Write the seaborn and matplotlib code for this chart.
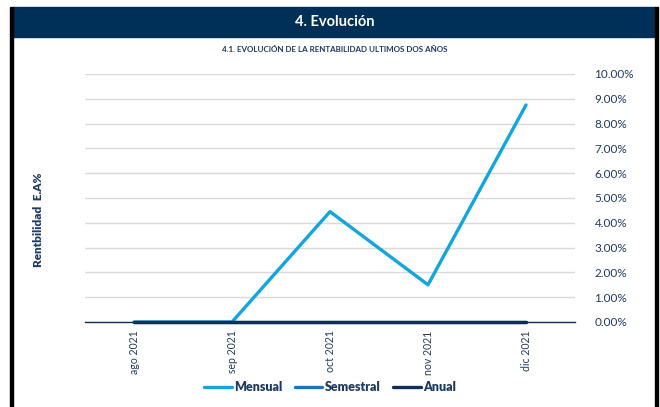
import pandas as pd
import matplotlib.pyplot as plt
import matplotlib.patches as patches
import seaborn as sns
from matplotlib.ticker import PercentFormatter

# data
meses = ['ago 2021', 'sep 2021', 'oct 2021', 'nov 2021', 'dic 2021']
mensual = [0.0, 0.0, 4.45, 1.5, 8.75]
semestral = [0.0, 0.0, 0.0, 0.0, 0.0]
anual = [0.0, 0.0, 0.0, 0.0, 0.0]
y_ticks = [0, 1, 2, 3, 4, 5, 6, 7, 8, 9, 10]

navy = '#0E2F56'
text_col = '#1F3B63'
colores = {'Mensual': '#12A5DE', 'Semestral': '#1C75BC', 'Anual': '#0E2F56'}

sns.set_style('white')
plt.rcParams['font.family'] = ['Lato', 'DejaVu Sans']

df = pd.DataFrame({'Mes': meses * 3,
                   'Valor': mensual + semestral + anual,
                   'Serie': ['Mensual'] * 5 + ['Semestral'] * 5 + ['Anual'] * 5})

fig = plt.figure(figsize=(6.6, 4.07), dpi=100)
ax = fig.add_axes([85 / 660, 1 - 322 / 407, 490 / 660, 248 / 407])

sns.lineplot(data=df, x='Mes', y='Valor', hue='Serie', palette=colores,
             linewidth=2.4, sort=False, ax=ax)
for ln in ax.lines:
    ln.set_clip_on(False)

ax.set_xlim(-0.5, 4.5)
ax.set_ylim(0, 10)
ax.set_yticks(y_ticks)
ax.yaxis.set_major_formatter(PercentFormatter(decimals=2))
ax.yaxis.tick_right()
ax.grid(axis='y', color='#D9D9D9', linewidth=1)
ax.set_axisbelow(True)
for s in ['top', 'left', 'right']:
    ax.spines[s].set_visible(False)
ax.spines['bottom'].set_color(navy)
ax.spines['bottom'].set_linewidth(1)
ax.tick_params(axis='y', length=0, pad=14, labelsize=8.5, labelcolor=text_col)
ax.tick_params(axis='x', length=0, pad=6, labelsize=7.6, labelcolor=text_col, rotation=90)
ax.set_xlabel('')
ax.set_ylabel('')

fig.text(38 / 660, 1 - 220 / 407, 'Rentbilidad  E.A%', rotation=90, ha='center', va='center',
         fontsize=8.5, fontweight='heavy', color=text_col)

leg = ax.legend(loc='center', bbox_to_anchor=(0.5, 1 - 387 / 407), bbox_transform=fig.transFigure,
                ncol=3, frameon=False, fontsize=9, handlelength=2.2, handletextpad=0.2,
                columnspacing=1.0)
for t in leg.get_texts():
    t.set_color(text_col)
    t.set_fontweight('heavy')

# marco y encabezado
fig.patches.append(patches.Rectangle((13 / 660, 1 - 37 / 407), 642 / 660, 30 / 407,
                                     transform=fig.transFigure, color='#003057', zorder=0))
fig.patches.append(patches.Rectangle((10 / 660, 0), 3 / 660, 1 - 7 / 407,
                                     transform=fig.transFigure, color='black', zorder=0))
fig.patches.append(patches.Rectangle((655 / 660, 0), 3 / 660, 1 - 7 / 407,
                                     transform=fig.transFigure, color='black', zorder=0))

fig.text(335 / 660, 1 - 22 / 407, '4. Evolución', ha='center', va='center',
         fontsize=10.5, fontweight='bold', color='white')
fig.text(335 / 660, 1 - 50 / 407, '4.1. EVOLUCIÓN DE LA RENTABILIDAD ULTIMOS DOS AÑOS',
         ha='center', va='center', fontsize=5.8, fontweight='bold', color=text_col)

fig.savefig('out.png', dpi=100)
